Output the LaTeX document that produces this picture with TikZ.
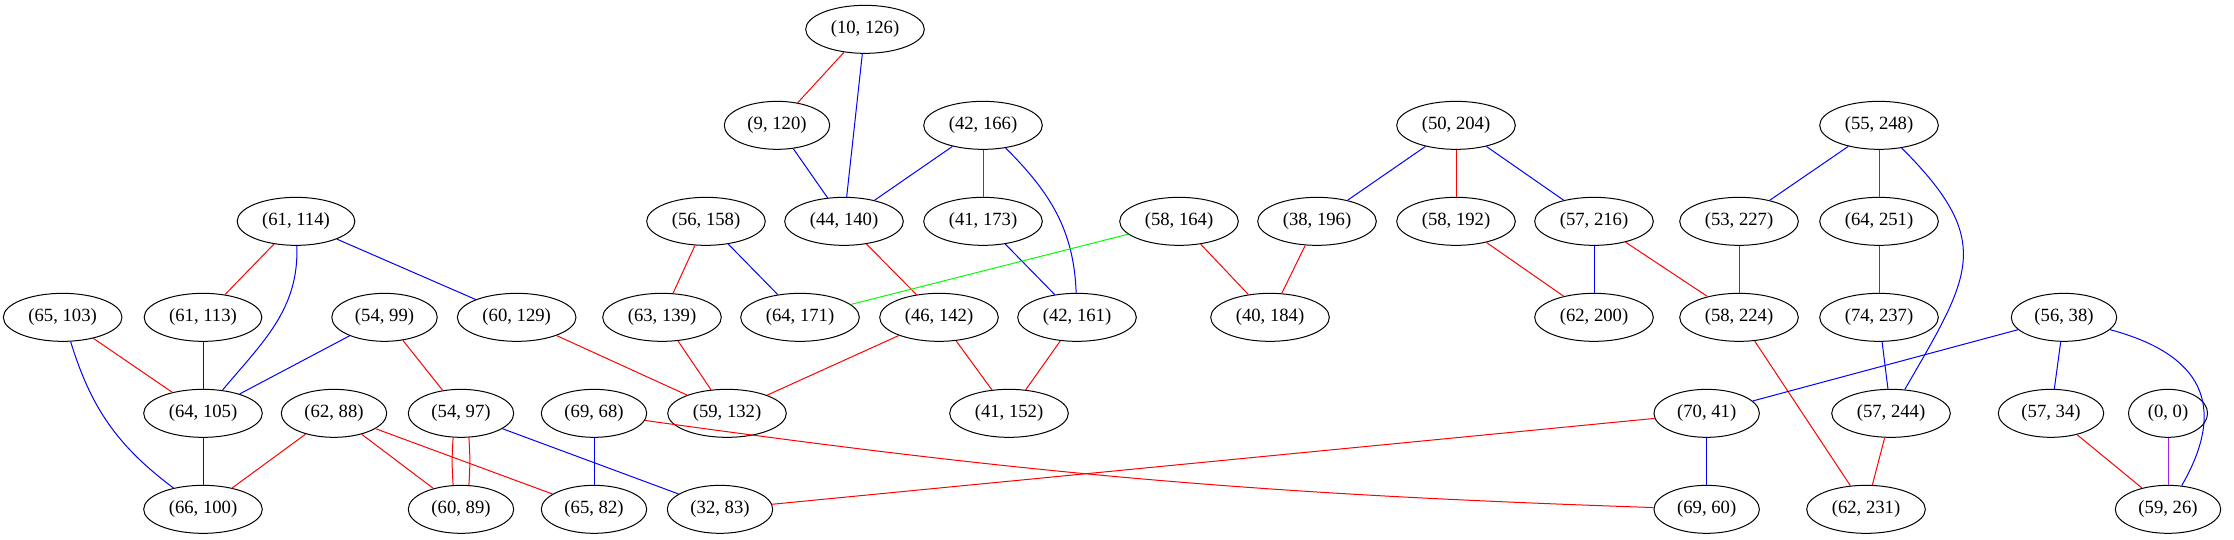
\documentclass[tikz,border=0pt]{standalone}
\usepackage{fontspec}
\setmainfont{Liberation Serif}
\usetikzlibrary{shapes}
\definecolor{gvgreen}{RGB}{0,255,0}
\definecolor{gvpurple}{RGB}{160,32,240}

\begin{document}
\begin{tikzpicture}[x=1pt,y=1pt,
  vtx/.style={draw=black, line width=0.75pt, ellipse, minimum height=36pt, inner xsep=5.8pt, inner ysep=2pt, font=\fontsize{14pt}{16pt}\selectfont},
  redge/.style={draw=red, line width=0.75pt},
  bedge/.style={draw=blue, line width=0.75pt},
  gedge/.style={draw=gvgreen, line width=0.75pt},
  pedge/.style={draw=gvpurple, line width=0.75pt}]
\useasboundingbox (0,0) rectangle (1675.5,-404.25);
\node[vtx] (p10-126) at (648.75,-22) {(10, 126)};
\node[vtx] (p9-120) at (582.75,-94) {(9, 120)};
\node[vtx] (p42-166) at (737.25,-94) {(42, 166)};
\node[vtx] (p50-204) at (1092,-94) {(50, 204)};
\node[vtx] (p55-248) at (1409.25,-94) {(55, 248)};
\node[vtx] (p61-114) at (222,-166) {(61, 114)};
\node[vtx] (p56-158) at (529.5,-166) {(56, 158)};
\node[vtx] (p44-140) at (633,-166) {(44, 140)};
\node[vtx] (p41-173) at (737.25,-166) {(41, 173)};
\node[vtx] (p58-164) at (884.25,-166) {(58, 164)};
\node[vtx] (p38-196) at (987.75,-166) {(38, 196)};
\node[vtx] (p58-192) at (1092,-166) {(58, 192)};
\node[vtx] (p57-216) at (1195.5,-166) {(57, 216)};
\node[vtx] (p53-227) at (1304.25,-166) {(53, 227)};
\node[vtx] (p64-251) at (1409.25,-166) {(64, 251)};
\node[vtx] (p65-103) at (47,-238) {(65, 103)};
\node[vtx] (p61-113) at (152.25,-238) {(61, 113)};
\node[vtx] (p54-99) at (288.4,-238) {(54, 99)};
\node[vtx] (p60-129) at (387.5,-238) {(60, 129)};
\node[vtx] (p63-139) at (496.5,-238) {(63, 139)};
\node[vtx] (p64-171) at (600,-238) {(64, 171)};
\node[vtx] (p46-142) at (704.25,-238) {(46, 142)};
\node[vtx] (p42-161) at (807.75,-238) {(42, 161)};
\node[vtx] (p40-184) at (952.5,-238) {(40, 184)};
\node[vtx] (p62-200) at (1195.5,-238) {(62, 200)};
\node[vtx] (p58-224) at (1304.25,-238) {(58, 224)};
\node[vtx] (p74-237) at (1409.25,-238) {(74, 237)};
\node[vtx] (p56-38) at (1548,-238) {(56, 38)};
\node[vtx] (p64-105) at (152.25,-310) {(64, 105)};
\node[vtx] (p62-88) at (250.5,-310) {(62, 88)};
\node[vtx] (p54-97) at (345.75,-310) {(54, 97)};
\node[vtx] (p69-68) at (445.5,-310) {(69, 68)};
\node[vtx] (p59-132) at (545.25,-310) {(59, 132)};
\node[vtx] (p41-152) at (756.75,-310) {(41, 152)};
\node[vtx] (p70-41) at (1280,-310) {(70, 41)};
\node[vtx] (p57-244) at (1418.25,-310) {(57, 244)};
\node[vtx] (p57-34) at (1538.25,-310) {(57, 34)};
\node[vtx] (p0-0) at (1626,-310) {(0, 0)};
\node[vtx] (p66-100) at (152.25,-382) {(66, 100)};
\node[vtx] (p60-89) at (345.75,-382) {(60, 89)};
\node[vtx] (p65-82) at (445.5,-382) {(65, 82)};
\node[vtx] (p32-83) at (540,-382) {(32, 83)};
\node[vtx] (p69-60) at (1280,-382) {(69, 60)};
\node[vtx] (p62-231) at (1399.5,-382) {(62, 231)};
\node[vtx] (p59-26) at (1626,-382) {(59, 26)};
\draw[redge] (p10-126) -- (p9-120);
\draw[bedge] (p10-126) -- (p44-140);
\draw[bedge] (p9-120) -- (p44-140);
\draw[bedge] (p42-166) -- (p44-140);
\draw[redge] (p42-166) -- (p41-173);
\draw[bedge] (p42-166) to[out=-45,in=92] (p42-161);
\draw[redge] (p44-140) -- (p46-142);
\draw[bedge] (p41-173) -- (p42-161);
\draw[redge] (p56-158) -- (p63-139);
\draw[bedge] (p56-158) -- (p64-171);
\draw[gedge] (p58-164) -- (p64-171);
\draw[redge] (p58-164) -- (p40-184);
\draw[redge] (p38-196) -- (p40-184);
\draw[bedge] (p50-204) -- (p38-196);
\draw[redge] (p50-204) -- (p58-192);
\draw[bedge] (p50-204) -- (p57-216);
\draw[redge] (p58-192) -- (p62-200);
\draw[bedge] (p57-216) -- (p62-200);
\draw[redge] (p57-216) -- (p58-224);
\draw[bedge] (p55-248) -- (p53-227);
\draw[redge] (p55-248) -- (p64-251);
\draw[bedge] (p55-248) to[out=-45,in=60,looseness=1.4] (p57-244);
\draw[redge] (p53-227) -- (p58-224);
\draw[redge] (p64-251) -- (p74-237);
\draw[bedge] (p74-237) -- (p57-244);
\draw[redge] (p58-224) -- (p62-231);
\draw[redge] (p57-244) -- (p62-231);
\draw[bedge] (p56-38) -- (p70-41);
\draw[bedge] (p56-38) -- (p57-34);
\draw[bedge] (p56-38) to[out=-15,in=60,looseness=1.4] (p59-26);
\draw[redge] (p57-34) -- (p59-26);
\draw[pedge] (p0-0) -- (p59-26);
\draw[bedge] (p70-41) -- (p69-60);
\draw[redge] (p70-41) -- (p32-83);
\draw[redge] (p69-68) to[bend right=3] (p69-60);
\draw[bedge] (p69-68) -- (p65-82);
\draw[bedge] (p54-97) -- (p32-83);
\draw[redge] (p54-97.-108) to[bend right=4] (p60-89.108);
\draw[redge] (p54-97.-72) to[bend left=4] (p60-89.72);
\draw[redge] (p62-88) -- (p60-89);
\draw[redge] (p62-88) -- (p65-82);
\draw[redge] (p62-88) -- (p66-100);
\draw[redge] (p54-99) -- (p54-97);
\draw[bedge] (p54-99) -- (p64-105);
\draw[redge] (p61-114) -- (p61-113);
\draw[bedge] (p61-114) to[out=-88,in=50] (p64-105);
\draw[bedge] (p61-114) -- (p60-129);
\draw[redge] (p60-129) -- (p59-132);
\draw[redge] (p63-139) -- (p59-132);
\draw[redge] (p46-142) -- (p59-132);
\draw[redge] (p46-142) -- (p41-152);
\draw[redge] (p42-161) -- (p41-152);
\draw[redge] (p65-103) -- (p64-105);
\draw[bedge] (p65-103) to[bend right=18] (p66-100);
\draw[bedge] (p61-113) -- (p64-105);
\draw[bedge] (p64-105) -- (p66-100);
\end{tikzpicture}
\end{document}
